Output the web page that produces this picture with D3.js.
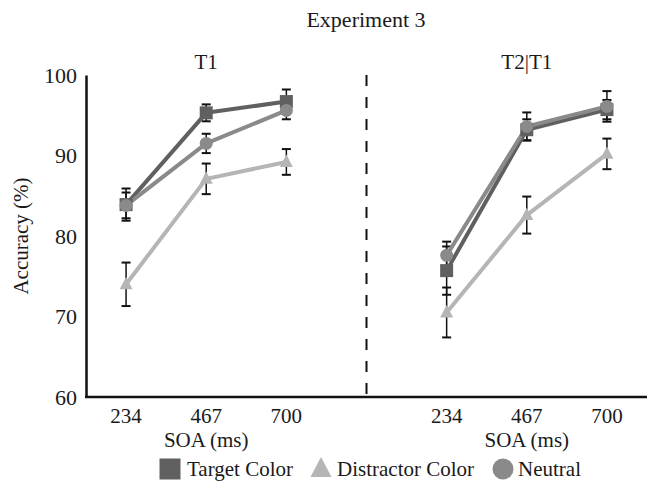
<!DOCTYPE html>
<html>
<head>
<meta charset="utf-8">
<script src="https://cdn.jsdelivr.net/npm/d3@7"></script>
<style>
  html, body { margin: 0; padding: 0; background: #fff; }
  svg, svg text { font-family: "Liberation Serif", "DejaVu Serif", serif !important; }
  svg text { fill: #1a1a1a; }
</style>
</head>
<body>
<div id="chart"></div>
<script>
// ---- data ----
const soa = ["234", "467", "700"];
const panels = ["T1", "T2|T1"];
const seriesNames = ["Target Color", "Distractor Color", "Neutral"];

// nilai rata-rata per panel, urutan SOA 234/467/700
const targetT1 = [83.9, 95.3, 96.7];
const distractorT1 = [74.0, 87.1, 89.2];
const neutralT1 = [83.8, 91.5, 95.6];
const targetT2 = [75.7, 93.2, 95.7];
const distractorT2 = [70.5, 82.6, 90.2];
const neutralT2 = [77.6, 93.6, 96.1];

// error bar (±)
const targetErrT1 = [2.0, 1.05, 1.5];
const distractorErrT1 = [2.7, 1.9, 1.6];
const neutralErrT1 = [1.6, 1.2, 1.1];
const targetErrT2 = [3.0, 1.3, 1.2];
const distractorErrT2 = [3.1, 2.3, 1.9];
const neutralErrT2 = [1.7, 1.75, 1.9];

const yTicks = [60, 70, 80, 90, 100];

// ---- layout ----
const W = 647, H = 482;
const m = { l: 86, r: 0, t: 75, b: 85 };
const FONT = "Liberation Serif, serif";
const svg = d3.select("#chart").append("svg").attr("width", W).attr("height", H)
  .attr("font-family", FONT);

const slots = ["T1-234", "T1-467", "T1-700", "gap", "T2|T1-234", "T2|T1-467", "T2|T1-700"];
const x = d3.scaleBand().domain(slots).range([m.l, W - m.r]).paddingInner(0).paddingOuter(0);
const cx = k => x(k) + x.bandwidth() / 2;
const y = d3.scaleLinear().domain([60, 100]).range([H - m.b, m.t]);

const colors = { "Target Color": "#606060", "Distractor Color": "#b5b5b5", "Neutral": "#8a8a8a" };

const series = [
  { name: "Target Color", shape: "square", panels: [[targetT1, targetErrT1], [targetT2, targetErrT2]] },
  { name: "Distractor Color", shape: "triangle", panels: [[distractorT1, distractorErrT1], [distractorT2, distractorErrT2]] },
  { name: "Neutral", shape: "circle", panels: [[neutralT1, neutralErrT1], [neutralT2, neutralErrT2]] }
];

const txt = (px, py, s, size, anchor) => svg.append("text")
  .attr("x", px).attr("y", py).attr("text-anchor", anchor || "middle")
  .attr("font-family", FONT).style("font-size", size + "px").text(s);

// title
txt(366, 27, "Experiment 3", 22);

// panel titles
panels.forEach(p => txt(cx(p + "-467"), 69, p, 21));

// y axis
const yAxis = svg.append("g").attr("transform", `translate(${m.l},0)`)
  .call(d3.axisLeft(y).tickValues(yTicks).tickSize(0).tickPadding(9).tickFormat(d3.format("d")));
yAxis.attr("font-family", FONT);
yAxis.select(".domain").attr("stroke", "#111").attr("stroke-width", 2.5);
yAxis.selectAll("text").attr("font-family", FONT).style("font-size", "22px").attr("fill", "#1a1a1a");

svg.append("text")
  .attr("transform", `translate(28,${(y(60) + y(100)) / 2}) rotate(-90)`)
  .attr("text-anchor", "middle").attr("font-family", FONT)
  .style("font-size", "21px").text("Accuracy (%)");

// x axis line
svg.append("line").attr("x1", m.l - 1).attr("x2", W).attr("y1", y(60)).attr("y2", y(60))
  .attr("stroke", "#111").attr("stroke-width", 2.5);

// x tick labels + judul sumbu
panels.forEach(p => {
  soa.forEach(s => txt(cx(p + "-" + s), 423, s, 21));
  txt(cx(p + "-467"), 447, "SOA (ms)", 21);
});

// garis pemisah putus-putus
svg.append("line").attr("x1", cx("gap")).attr("x2", cx("gap"))
  .attr("y1", y(100)).attr("y2", y(60))
  .attr("stroke", "#111").attr("stroke-width", 2).attr("stroke-dasharray", "11,11");

// simbol marker
function marker(g, shape, px, py, size, fill) {
  if (shape === "square") {
    g.append("rect").attr("x", px - size / 2).attr("y", py - size / 2)
      .attr("width", size).attr("height", size).attr("fill", fill);
  } else if (shape === "circle") {
    g.append("circle").attr("cx", px).attr("cy", py).attr("r", size / 2).attr("fill", fill);
  } else {
    const h = size * 0.95;
    g.append("path")
      .attr("d", `M${px},${py - h * 0.6} L${px + size / 2},${py + h * 0.4} L${px - size / 2},${py + h * 0.4} Z`)
      .attr("fill", fill);
  }
}

const errG = svg.append("g");
const lineG = svg.append("g");
const markG = svg.append("g");

series.forEach(s => {
  s.panels.forEach(([vals, errs], pi) => {
    const p = panels[pi];
    const pts = soa.map((k, i) => ({ x: cx(p + "-" + k), v: vals[i], e: errs[i] }));

    pts.forEach(d => {
      const top = y(d.v + d.e), bot = y(d.v - d.e);
      errG.append("line").attr("x1", d.x).attr("x2", d.x).attr("y1", top).attr("y2", bot)
        .attr("stroke", "#111").attr("stroke-width", 1.5);
      [top, bot].forEach(yy => errG.append("line")
        .attr("x1", d.x - 4.5).attr("x2", d.x + 4.5).attr("y1", yy).attr("y2", yy)
        .attr("stroke", "#111").attr("stroke-width", 2));
    });

    lineG.append("path").datum(pts)
      .attr("d", d3.line().x(d => d.x).y(d => y(d.v)))
      .attr("fill", "none").attr("stroke", colors[s.name]).attr("stroke-width", 4)
      .attr("stroke-linejoin", "round");

    pts.forEach(d => marker(markG, s.shape, d.x, y(d.v), 13, colors[s.name]));
  });
});

// legenda
const legendPos = [{ mx: 170, tx: 187 }, { mx: 321, tx: 337 }, { mx: 503, tx: 518 }];
series.forEach((s, i) => {
  const lp = legendPos[i];
  marker(svg, s.shape, lp.mx, 469, 21, colors[s.name]);
  txt(lp.tx, 476, s.name, 21, "start");
});
</script>
</body>
</html>
